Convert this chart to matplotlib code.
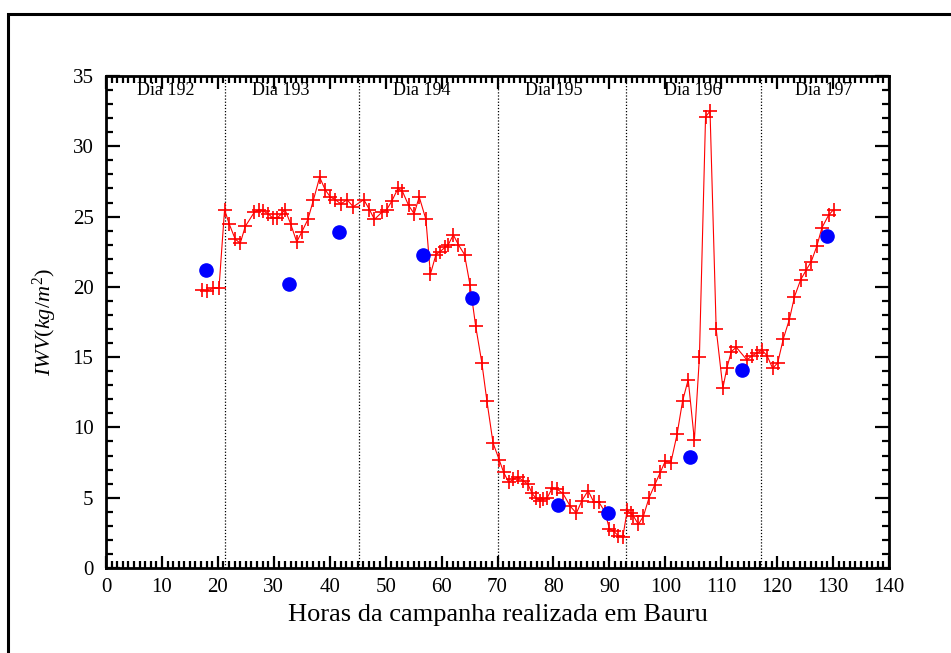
import matplotlib
matplotlib.use("Agg")
import matplotlib.pyplot as plt
from matplotlib.patches import Rectangle
from matplotlib.ticker import MultipleLocator

plt.rcParams["font.family"] = ["Liberation Serif", "DejaVu Serif"]
plt.rcParams["mathtext.fontset"] = "custom"
plt.rcParams["mathtext.rm"] = "Liberation Serif"
plt.rcParams["mathtext.it"] = "Liberation Serif:italic"

# IWV horario (cruzes vermelhas)
horas = [17.1, 18.0, 19.2, 20.2, 21.2, 22.0, 23.1, 24.0, 24.9, 26.5, 27.4, 28.1,
         29.0, 29.8, 30.6, 31.4, 32.0, 33.0, 34.1, 35.0, 36.1, 37.1, 38.2, 39.2,
         40.1, 41.0, 42.0, 43.1, 44.2, 46.1, 47.1, 48.0, 49.3, 50.2, 51.1, 52.2,
         53.0, 54.1, 55.1, 56.0, 57.2, 58.0, 59.0, 59.7, 60.6, 61.2, 62.1, 63.0,
         64.1, 65.1, 66.1, 67.2, 68.1, 69.2, 70.3, 71.1, 72.0, 72.8, 73.7, 74.5,
         75.4, 76.2, 76.8, 77.6, 78.2, 78.9, 79.8, 80.7, 81.7, 83.0, 84.1, 85.1,
         86.2, 87.2, 88.1, 89.2, 90.0, 90.8, 91.6, 92.4, 93.2, 93.8, 94.3, 95.2,
         96.1, 97.1, 98.1, 99.1, 100.0, 101.0, 102.1, 103.1, 104.1, 105.2, 106.1,
         107.2, 108.0, 109.1, 110.3, 111.0, 111.8, 112.7, 114.6, 115.5, 116.4,
         117.3, 118.2, 119.2, 120.1, 121.1, 122.2, 123.1, 124.2, 125.2, 126.1,
         127.1, 128.0, 129.2, 130.1]
iwv = [19.8, 19.7, 19.9, 19.9, 25.5, 24.5, 23.4, 23.1, 24.3, 25.3, 25.5, 25.4,
       25.2, 24.9, 24.9, 25.2, 25.5, 24.5, 23.2, 23.9, 24.8, 26.2, 27.8, 26.9,
       26.4, 26.2, 25.9, 26.2, 25.7, 26.2, 25.5, 24.8, 25.3, 25.5, 26.1, 27.0,
       26.8, 25.8, 25.2, 26.4, 24.8, 20.9, 22.3, 22.5, 22.8, 23.0, 23.7, 23.0,
       22.3, 20.1, 17.2, 14.6, 11.9, 8.9, 7.7, 6.8, 6.1, 6.3, 6.5, 6.2,
       6.0, 5.3, 5.0, 4.8, 4.9, 5.0, 5.7, 5.6, 5.3, 4.4, 3.9, 4.8,
       5.5, 4.7, 4.7, 4.0, 2.8, 2.6, 2.3, 2.2, 4.1, 3.9, 3.7, 3.1,
       3.7, 5.0, 5.9, 6.8, 7.6, 7.5, 9.5, 11.9, 13.4, 9.1, 15.0,
       32.1, 32.5, 17.0, 12.8, 14.2, 15.4, 15.7, 14.8, 15.1, 15.3,
       15.5, 15.1, 14.2, 14.6, 16.3, 17.7, 19.3, 20.5, 21.2, 21.8,
       22.9, 24.2, 25.1, 25.5]

# pontos azuis
horas_pt = [17.8, 32.7, 41.6, 56.7, 65.5, 80.9, 89.7, 104.5, 113.7, 128.9]
iwv_pt = [21.2, 20.2, 23.9, 22.3, 19.2, 4.5, 3.9, 7.9, 14.1, 23.6]

# divisao dos dias
limites_dia = [21.3, 45.2, 70.0, 93.0, 117.2]
dias = ["Dia 192", "Dia 193", "Dia 194", "Dia 195", "Dia 196", "Dia 197"]
pos_dias = [10.6, 31.3, 56.5, 80.0, 105.0, 128.3]

fig = plt.figure(figsize=(9.51, 6.53), dpi=100)
ax = fig.add_axes([106 / 951, 1 - 568 / 653, 783 / 951, 492 / 653])

# moldura externa
fig.patches.append(Rectangle((8 / 951, -0.1), 1.1, 1.1 - 14 / 653,
                             transform=fig.transFigure, fill=False,
                             edgecolor="black", linewidth=2.2, zorder=0))

for xl in limites_dia:
    ax.axvline(xl, color="black", linestyle=(0, (1, 1.5)), linewidth=0.9, zorder=1)

ax.plot(horas, iwv, color="red", linewidth=0.8, marker="+", markersize=10,
        markeredgewidth=1.2, zorder=3)
ax.plot(horas_pt, iwv_pt, linestyle="none", marker="o", markersize=9.5,
        color="blue", zorder=4)

for d, xp in zip(dias, pos_dias):
    ax.text(xp, 33.95, d, ha="center", va="center", fontsize=13, zorder=5)

ax.set_xlim(0, 140)
ax.set_ylim(0, 35)
ax.xaxis.set_major_locator(MultipleLocator(10))
ax.xaxis.set_minor_locator(MultipleLocator(1))
ax.yaxis.set_major_locator(MultipleLocator(5))
ax.yaxis.set_minor_locator(MultipleLocator(1))
ax.tick_params(which="both", direction="in", top=True, right=True, width=1.6,
               labelsize=15)
ax.tick_params(which="major", length=10)
ax.tick_params(which="minor", length=5)
ax.tick_params(axis="x", which="major", length=9)
ax.tick_params(axis="x", pad=7)
ax.tick_params(axis="y", pad=9)
for s in ax.spines.values():
    s.set_linewidth(2)

ax.set_xlabel("Horas da campanha realizada em Bauru", fontsize=19, labelpad=5)
ax.set_ylabel(r"$IWV(kg/m^2)$", fontsize=16, labelpad=10)

fig.savefig("out.png", dpi=100)
